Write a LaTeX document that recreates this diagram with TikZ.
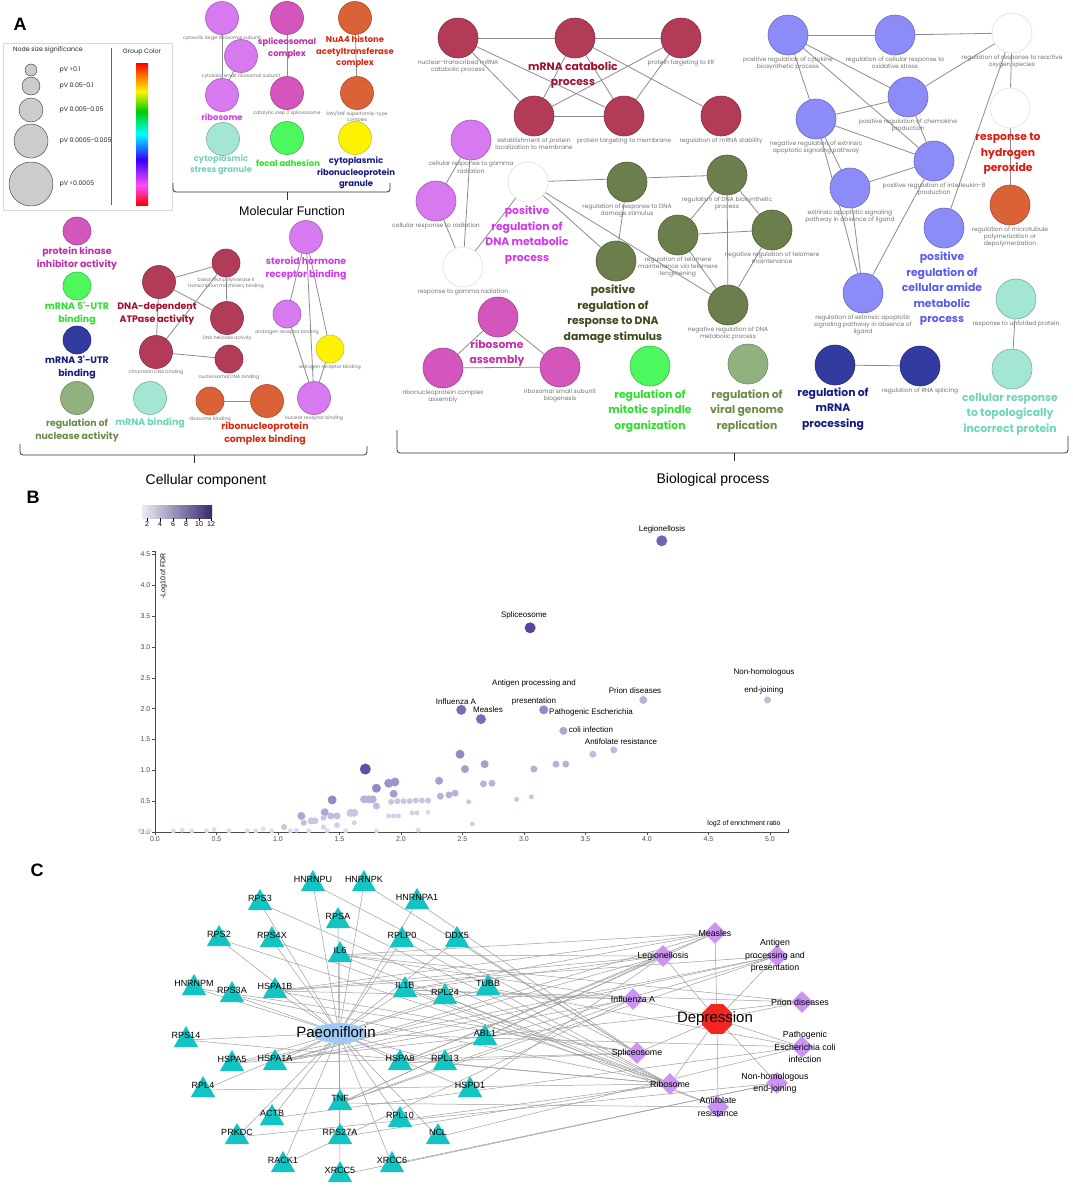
\documentclass[tikz,border=0pt]{standalone}
\usepackage{fontspec}
\setmainfont{Liberation Sans}
\newfontfamily\grpfont{Poppins}
\usetikzlibrary{shapes.geometric,backgrounds,positioning}

\definecolor{rasp}{HTML}{B23C58}
\definecolor{raspT}{HTML}{A3102F}
\definecolor{orchid}{HTML}{D77AF0}
\definecolor{orchidT}{HTML}{D239EC}
\definecolor{mauve}{HTML}{D455BC}
\definecolor{mauveT}{HTML}{C12FA6}
\definecolor{rust}{HTML}{DA6236}
\definecolor{rustT}{HTML}{D8280E}
\definecolor{mint}{HTML}{A3E6D4}
\definecolor{mintT}{HTML}{6ED6B6}
\definecolor{limeN}{HTML}{4DF75E}
\definecolor{limeT}{HTML}{2EE02E}
\definecolor{navyN}{HTML}{333AA0}
\definecolor{navyT}{HTML}{141A80}
\definecolor{moss}{HTML}{6C7E4B}
\definecolor{mossT}{HTML}{3B4A1C}
\definecolor{sage}{HTML}{91B27E}
\definecolor{sageT}{HTML}{6B8B48}
\definecolor{peri}{HTML}{8C8CF8}
\definecolor{periT}{HTML}{5B5BF0}
\definecolor{fire}{HTML}{DD1A0E}
\definecolor{vio}{HTML}{52399E}
\definecolor{genec}{HTML}{13C5C2}
\definecolor{pathc}{HTML}{C994F2}
\definecolor{paec}{HTML}{9DCBF6}
\definecolor{deprc}{HTML}{F2261E}

\pgfdeclareverticalshading{grpbar}{100bp}{color(0bp)=(red); color(25bp)=(red); color(32bp)=(magenta!70!white); color(41bp)=(blue!80!magenta); color(50bp)=(cyan); color(58bp)=(green!80!black); color(65bp)=(yellow!90!orange); color(70bp)=(orange); color(75bp)=(red); color(100bp)=(red)}

\tikzset{
  term/.style={circle, draw=#1!75!black, fill=#1, minimum size=40pt, inner sep=0pt, line width=0.6pt, label distance=1pt},
  sterm/.style={term=#1, minimum size=28pt},
  mterm/.style={term=#1, minimum size=33pt},
  blank/.style={term=white, draw=black!12},
  glab/.style={font=\grpfont\fontsize{6}{7.2}\selectfont, text=black!55, align=center, inner sep=1pt},
  sglab/.style={glab, font=\grpfont\fontsize{4.7}{5.8}\selectfont},
  grp/.style={font=\grpfont\bfseries\fontsize{10.8}{15.5}\selectfont, text=#1, align=center, inner sep=0pt},
  sgrp/.style={font=\grpfont\bfseries\fontsize{9.4}{13}\selectfont, text=#1, align=center, inner sep=0pt},
  tgrp/.style={font=\grpfont\bfseries\fontsize{8.4}{11.5}\selectfont, text=#1, align=center, inner sep=0pt},
  link/.style={draw=black!45, line width=0.8pt},
  brk/.style={draw=black!80, line width=0.8pt, rounded corners=3pt},
  pan/.style={font=\bfseries\fontsize{18}{18}\selectfont},
  leg/.style={font=\grpfont\fontsize{6.3}{7.5}\selectfont, text=black!85},
  tk/.style={font=\fontsize{7}{8}\selectfont, inner sep=1.5pt},
  slab/.style={font=\fontsize{8}{9}\selectfont, inner sep=0pt},
  gene/.style={regular polygon, regular polygon sides=3, fill=genec, minimum size=28pt, inner sep=0pt},
  gtxt/.style={font=\fontsize{9}{10}\selectfont, yshift=5pt, inner sep=0pt},
  pway/.style={diamond, fill=pathc, minimum size=22pt, inner sep=0pt},
  ptxt/.style={font=\fontsize{8.8}{12.5}\selectfont, align=center, inner sep=0pt},
  net/.style={draw=black!38, line width=0.5pt},
}

\begin{document}
\begin{tikzpicture}[x=1pt,y=-1pt]
  \useasboundingbox (0,0) rectangle (1072,1187);
  \begin{scope}[on background layer]
    \fill[white] (0,0) rectangle (1072,1187);
  \end{scope}

  %% ---------------- A: legend
  \node[pan] (lA) at (20,24) {A};
  \draw[black!15] (3,43) rectangle (172,210);
  \node[leg] (lgs) at (48,50) {Node size significance};
  \node[leg] (lgc) at (142,52) {Group Color};
  \draw[black!60] (111,48) -- (111,205);
  \shade[shading=grpbar] (136,63) rectangle (148,205);
  \foreach \y/\r/\t [count=\i] in {70/6/{pV >0.1}, 86/9/{pV 0.05-0.1}, 110/12/{pV 0.005-0.05}, 141/17/{pV 0.0005-0.005}, 184/22/{pV <0.0005}}{
    \node[circle, draw=black!80, fill=black!20, minimum size=2*\r pt, inner sep=0pt] (sz\i) at (31,\y) {};
    \node[leg, anchor=west] (szt\i) at (56,\y) {\t};
  }

  %% top cluster
  \node[mterm=orchid, label={[sglab]below:cytosolic large ribosomal subunit}] (cls) at (222,18) {};
  \node[mterm=orchid, label={[sglab]below:cytosolic small ribosomal subunit}] (css) at (241,56) {};
  \node[mterm=orchid] (ribos) at (222,95) {};
  \node[mterm=mauve] (spl) at (287,18) {};
  \node[mterm=mauve, label={[sglab]below:catalytic step 2 spliceosome}] (cat2) at (287,93) {};
  \node[mterm=rust] (nua4) at (355,18) {};
  \node[mterm=rust, label={[sglab]below:SWI/SNF superfamily-type\\complex}] (swi) at (357,93) {};
  \node[mterm=mint] (csg) at (223,139) {};
  \node[mterm=limeN] (foc) at (287,138) {};
  \node[mterm=yellow] (crg) at (355,138) {};
  \node[tgrp=orchidT] (tribos) at (222,117) {ribosome};
  \node[tgrp=mauveT] (tspl) at (287,48) {spliceosomal\\complex};
  \node[tgrp=rustT] (tnua) at (355,52) {NuA4 histone\\acetyltransferase\\complex};
  \node[tgrp=mintT] (tcsg) at (221,165) {cytoplasmic\\stress granule};
  \node[tgrp=limeT] (tfoc) at (288,163) {focal adhesion};
  \node[tgrp=navyT] (tcrg) at (356,173) {cytoplasmic\\ribonucleoprotein\\granule};
  \draw[brk] (173,183) |- (287,192);
  \draw[brk] (390,183) |- (287,192);
  \draw[brk] (287,192) -- (287,200);
  \node[font=\fontsize{12.5}{14}\selectfont] (mf) at (292,211) {Molecular Function};

  %% left cluster
  \node[sterm=mauve] (pki) at (77,231) {};
  \node[sterm=limeN] (u5) at (77,286) {};
  \node[sterm=navyN] (u3) at (77,340) {};
  \node[mterm=sage] (nuc) at (77,398) {};
  \node[mterm=mint] (mrb) at (150,398) {};
  \node[sgrp=mauveT] (tpki) at (77,258) {protein kinase\\inhibitor activity};
  \node[sgrp=limeT] (tu5) at (77,314) {mRNA 5'-UTR\\binding};
  \node[sgrp=navyT] (tu3) at (77,368) {mRNA 3'-UTR\\binding};
  \node[sgrp=sageT] (tnuc) at (77,430) {regulation of\\nuclease activity};
  \node[sgrp=mintT] (tmrb) at (150,423) {mRNA binding};

  \node[mterm=rasp] (atp) at (159,282) {};
  \node[sterm=rasp, label={[sglab]below:basal RNA polymerase II\\transcription machinery binding}] (bas) at (226,263) {};
  \node[mterm=rasp, label={[sglab]below:DNA helicase activity}] (hel) at (227,318) {};
  \node[mterm=rasp, label={[sglab]below:chromatin DNA binding}] (chr) at (156,352) {};
  \node[sterm=rasp, label={[sglab]below:nucleosomal DNA binding}] (nsm) at (229,359) {};
  \node[sgrp=raspT] (tatp) at (157,314) {DNA-dependent\\ATPase activity};

  \node[sterm=rust, label={[sglab]below:ribosome binding}] (rbb) at (210,401) {};
  \node[mterm=rust] (rnp) at (267,401) {};
  \node[sgrp=rustT] (trnp) at (265,434) {ribonucleoprotein\\complex binding};

  \node[mterm=orchid] (shr) at (306,237) {};
  \node[sterm=orchid, label={[sglab]below:androgen receptor binding}] (andr) at (287,314) {};
  \node[sterm=yellow, label={[sglab]below:estrogen receptor binding}] (estr) at (330,349) {};
  \node[mterm=orchid, label={[sglab]below:nuclear receptor binding}] (nrb) at (314,398) {};
  \node[sgrp=orchidT] (tshr) at (306,269) {steroid hormone\\receptor binding};

  \draw[brk] (20,444) |- (194,455);
  \draw[brk] (367,446) |- (194,455);
  \draw[brk] (194,455) -- (194,463);
  \node[font=\fontsize{14}{16}\selectfont] (cc) at (206,481) {Cellular component};

  %% ---------------- biological process
  \node[term=rasp, label={[glab]below:nuclear-transcribed mRNA\\catabolic process}] (mc1) at (458,38) {};
  \node[term=rasp] (mc2) at (575,38) {};
  \node[term=rasp, label={[glab]below:protein targeting to ER}] (mc3) at (681,38) {};
  \node[term=rasp, label={[glab]below:establishment of protein\\localization to membrane}] (mc4) at (534,116) {};
  \node[term=rasp, label={[glab]below:protein targeting to membrane}] (mc5) at (624,116) {};
  \node[term=rasp, label={[glab]below:regulation of mRNA stability}] (mc6) at (721,116) {};
  \node[grp=raspT] (tmc) at (573,75) {mRNA catabolic\\process};

  \node[term=orchid, label={[glab]below:cellular response to gamma\\radiation}] (gm1) at (471,140) {};
  \node[term=orchid, label={[glab]below:cellular response to radiation}] (gm2) at (436,201) {};
  \node[blank] (dm1) at (528,182) {};
  \node[blank, label={[glab]below:response to gamma radiation}] (gm3) at (463,267) {};
  \node[grp=orchidT] (tdm) at (527,235) {positive\\regulation of\\DNA metabolic\\process};

  \node[term=moss, label={[glab]below:regulation of response to DNA\\damage stimulus}] (dd1) at (627,182) {};
  \node[term=moss, label={[glab]below:regulation of DNA biosynthetic\\process}] (dd2) at (727,175) {};
  \node[term=moss, label={[glab]below:regulation of telomere\\maintenance via telomere\\lengthening}] (dd3) at (678,235) {};
  \node[term=moss, label={[glab]below:negative regulation of telomere\\maintenance}] (dd4) at (772,230) {};
  \node[term=moss] (dd5) at (616,261) {};
  \node[term=moss, label={[glab]below:negative regulation of DNA\\metabolic process}] (dd6) at (728,305) {};
  \node[grp=mossT] (tdd) at (613,314) {positive\\regulation of\\response to DNA\\damage stimulus};

  \node[term=mauve] (ra1) at (498,317) {};
  \node[term=mauve, label={[glab]below:ribonucleoprotein complex\\assembly}] (ra2) at (443,368) {};
  \node[term=mauve, label={[glab]below:ribosomal small subunit\\biogenesis}] (ra3) at (560,367) {};
  \node[grp=mauveT] (tra) at (497,353) {ribosome\\assembly};

  \node[term=limeN] (ms) at (650,366) {};
  \node[grp=limeT] (tms) at (650,411) {regulation of\\mitotic spindle\\organization};
  \node[term=sage] (vg) at (748,364) {};
  \node[grp=sageT] (tvg) at (747,411) {regulation of\\viral genome\\replication};

  \node[term=peri, label={[glab]below:positive regulation of cytokine\\biosynthetic process}] (ap1) at (788,35) {};
  \node[term=peri, label={[glab]below:regulation of cellular response to\\oxidative stress}] (ap2) at (895,35) {};
  \node[blank, label={[glab]below:regulation of response to reactive\\oxygen species}] (ro1) at (1012,33) {};
  \node[blank] (ro2) at (1010,108) {};
  \node[term=rust, label={[glab]below:regulation of microtubule\\polymerization or\\depolymerization}] (hp) at (1010,205) {};
  \node[grp=fire] (thp) at (1008,154) {response to\\hydrogen\\peroxide};
  \node[term=peri, label={[glab]below:positive regulation of chemokine\\production}] (ap3) at (908,97) {};
  \node[term=peri, label={[glab]below:negative regulation of extrinsic\\apoptotic signaling pathway}] (ap4) at (816,119) {};
  \node[term=peri, label={[glab]below:positive regulation of interleukin-8\\production}] (ap5) at (934,161) {};
  \node[term=peri, label={[glab]below:extrinsic apoptotic signaling\\pathway in absence of ligand}] (ap6) at (850,188) {};
  \node[term=peri] (ap7) at (944,228) {};
  \node[grp=periT] (tap) at (942,289) {positive\\regulation of\\cellular amide\\metabolic\\process};
  \node[term=peri, label={[glab]below:regulation of extrinsic apoptotic\\signaling pathway in absence of\\ligand}] (ap8) at (863,293) {};
  \node[term=mint, label={[glab]below:response to unfolded protein}] (tp1) at (1016,299) {};
  \node[term=mint] (tp2) at (1012,369) {};
  \node[grp=mintT] (ttp) at (1010,414) {cellular response\\to topologically\\incorrect protein};
  \node[term=navyN] (mp1) at (835,365) {};
  \node[term=navyN, label={[glab]below:regulation of RNA splicing}] (mp2) at (920,366) {};
  \node[grp=navyT] (tmp) at (833,409) {regulation of\\mRNA\\processing};

  \draw[brk] (397,430) |- (734,453);
  \draw[brk] (1068,436) |- (734,453);
  \draw[brk] (734,453) -- (734,461);
  \node[font=\fontsize{14}{16}\selectfont] (bp) at (713,480) {Biological process};

  \begin{scope}[on background layer]
    \foreach \a/\b in {cls/ribos, css/ribos, spl/cat2, nua4/swi,
      atp/bas, atp/hel, atp/chr, bas/hel, bas/chr, chr/nsm, rbb/rnp,
      shr/andr, shr/nrb, shr/estr, andr/nrb, estr/nrb,
      mc1/mc2, mc2/mc3, mc1/mc4, mc1/mc5, mc2/mc4, mc2/mc5, mc2/mc6, mc3/mc4, mc3/mc5, mc4/mc5,
      gm1/gm2, gm1/gm3, gm2/gm3, dm1/gm3, dm1/dd2, dm1/dd5, dm1/dd6, dd1/dd5,
      dd2/dd3, dd2/dd4, dd2/dd6, dd3/dd4, dd3/dd6, dd4/dd6,
      ra1/ra2, ra1/ra3, ra2/ra3,
      ap1/ap2, ap2/ro1, ap1/ap4, ap1/ap3, ap1/ap5, ap4/ap3, ap4/ap5, ap4/ap6, ap4/ap8,
      ap3/ro1, ap3/ap5, ap5/ap6, ap5/ap8, ap6/ap8, ro1/ro2, ro1/ap7, ro2/hp, tp1/tp2, mp1/mp2}
      \draw[link] (\a) -- (\b);
  \end{scope}

  %% ---------------- B: enrichment scatter
  \node[pan] (lB) at (33,497) {B};
  \shade[left color=vio!10!white, right color=vio!70!black] (142,505) rectangle (212,518);
  \foreach \x/\t in {147/2, 160/4, 173/6, 186/8, 199/10, 211/12}
    \draw (\x,518) -- (\x,521) node[below, tk, inner sep=0.5pt] {\t};
  \begin{scope}[shift={(155,832)}, x=123pt, y=61.7pt]
    \draw[black!70, line width=0.8pt] (0,0) -- (5.15,0) -- ++(0,3pt);
    \draw[black!70, line width=0.8pt] (0,0) -- (0,4.55) -- ++(-3pt,0);
    \foreach \v in {0.0,0.5,1.0,1.5,2.0,2.5,3.0,3.5,4.0,4.5,5.0}
      \draw[black!70] (\v,0) -- ++(0,-3pt) node[below, tk] {\v};
    \foreach \v in {0.0,0.5,1.0,1.5,2.0,2.5,3.0,3.5,4.0,4.5}
      \draw[black!70] (0,\v) -- ++(-3pt,0) node[left, tk] {\v};
    \node[tk, rotate=90, anchor=east] (yl) at (0.07,4.55) {-Log10 of FDR};
    \node[tk, anchor=south east] (xl) at (5.1,0.05) {log2 of enrichment ratio};
    \foreach \x/\y/\r/\s in {4.12/4.72/5.5/80, 3.05/3.31/5.5/95, 2.49/1.98/5/75, 2.65/1.83/5/75,
      3.16/1.98/4.5/60, 3.32/1.64/4/45, 3.97/2.14/4/40, 4.98/2.14/3.5/35, 3.73/1.33/3.5/35,
      3.56/1.26/3.5/35, 3.26/1.10/3.5/40, 3.34/1.10/3.5/40, 3.08/1.02/3.5/40, 2.94/0.53/2.5/30,
      3.06/0.57/2.5/30, 2.68/1.10/4/50, 2.67/0.78/3.5/40, 2.74/0.79/3.5/40, 2.48/1.26/4.5/60,
      2.52/1.02/4/50, 2.31/0.83/4/50, 2.32/0.58/3.5/40, 2.39/0.60/3.5/40, 2.44/0.63/3.5/40,
      2.55/0.49/2.5/30, 2.58/0.13/2.5/25, 1.71/1.02/5.5/90, 1.80/0.71/4.5/60, 1.90/0.79/4.5/55,
      1.95/0.81/4.5/55, 1.94/0.62/4/50, 1.70/0.53/4/40, 1.74/0.53/4/40, 1.77/0.53/4/40,
      1.80/0.42/3.5/35, 1.44/0.52/4.5/60, 1.38/0.32/4/45, 1.43/0.26/3.5/35, 1.48/0.26/3.5/35,
      1.37/0.23/3/30, 1.59/0.31/4/30, 1.62/0.31/4/30, 1.19/0.26/4/45, 1.21/0.15/3/35,
      1.27/0.18/3.5/30, 1.30/0.18/3.5/30, 1.05/0.08/3/30, 1.37/0.08/2.5/25, 1.48/0.11/3/25,
      1.62/0.15/2.5/25, 1.92/0.49/3/30, 1.97/0.50/3/30, 2.02/0.50/3/30, 2.07/0.50/3/30,
      2.12/0.51/3/30, 2.17/0.51/3/30, 2.22/0.51/3/30, 1.90/0.26/2.5/25, 1.94/0.26/2.5/25,
      1.98/0.26/2.5/25, 2.09/0.31/2.5/25, 2.13/0.31/2.5/25, 2.22/0.32/2.5/20, 2.14/0.03/2.5/20,
      -0.12/0.02/2.5/18, -0.05/0.02/2.5/18, 0.15/0.02/2.5/18, 0.22/0.03/2.5/18, 0.3/0.02/2.5/18,
      0.42/0.02/2.5/18, 0.48/0.04/2.5/18, 0.6/0.02/2.5/18, 0.75/0.02/2.5/18, 0.82/0.02/2.5/18,
      0.88/0.05/2.5/18, 0.95/0.02/2.5/18, 1.1/0.02/2.5/18, 1.15/0.03/2.5/18, 1.25/0.02/2.5/18,
      1.4/0.02/2.5/18, 1.55/0.02/2.5/18, 1.8/0.02/2.5/18}
      \fill[vio!\s!white] (\x,\y) circle[radius=\r pt];
  \end{scope}
  \node[slab] (sl1) at (662,529) {Legionellosis};
  \node[slab] (sl2) at (524,615) {Spliceosome};
  \node[slab] (sl3) at (534,683) {Antigen processing and};
  \node[slab] (sl4) at (534,701) {presentation};
  \node[slab] (sl5) at (591,712) {Pathogenic Escherichia};
  \node[slab] (sl6) at (591,730) {coli infection};
  \node[slab] (sl7) at (621,742) {Antifolate resistance};
  \node[slab] (sl8) at (635,691) {Prion diseases};
  \node[slab] (sl9) at (764,672) {Non-homologous};
  \node[slab] (sl10) at (764,690) {end-joining};
  \node[slab] (sl11) at (456,702) {Influenza A};
  \node[slab] (sl12) at (488,710) {Measles};

  %% ---------------- C: network
  \node[pan] (lC) at (37,870) {C};
  \foreach \n/\x/\y in {HNRNPU/313/884, HNRNPK/364/884, HNRNPA1/417/902, RPS3/260/903, RPSA/338/921,
    RPS2/219/939, RPS4X/272/940, RPLP0/402/940, DDX5/457/940, IL6/340/955, HNRNPM/194/988,
    RPS3A/232/995, HSPA1B/275/991, IL1B/405/990, RPL24/445/997, TUBB/488/988, RPS14/186/1040,
    ABL1/485/1038, HSPA5/232/1064, HSPA1A/275/1063, HSPA8/400/1063, RPL13/445/1063, RPL4/203/1090,
    HSPD1/470/1090, TNF/340/1103, ACTB/272/1118, RPL10/400/1120, PRKDC/237/1137, RPS27A/340/1137,
    NCL/438/1137, RACK1/283/1165, XRCC6/392/1165, XRCC5/340/1175}
    \node[gene, label={[gtxt]center:\n}] (\n) at (\x,\y) {};
  \node[ellipse, fill=paec, minimum width=55pt, minimum height=20pt, inner sep=0pt,
    label={[font=\fontsize{15}{17}\selectfont, xshift=-3pt, yshift=1pt]center:Paeoniflorin}] (pae) at (339,1033) {};

  \node[pway, label={[ptxt]center:Measles}] (measles) at (715,933) {};
  \node[pway, label={[ptxt]center:Legionellosis}] (legion) at (663,956) {};
  \node[pway, label={[ptxt, xshift=-2pt]center:Antigen\\processing and\\presentation}] (antigen) at (777,956) {};
  \node[pway, label={[ptxt]center:Influenza A}] (influenza) at (633,999) {};
  \node[pway, label={[ptxt, xshift=-2pt]center:Prion diseases}] (prion) at (802,1002) {};
  \node[pway, label={[ptxt, xshift=3pt]center:Pathogenic\\Escherichia coli\\infection}] (ecoli) at (802,1047) {};
  \node[pway, label={[ptxt]center:Spliceosome}] (splice) at (637,1053) {};
  \node[pway, label={[ptxt]center:Ribosome}] (ribo) at (670,1084) {};
  \node[pway, label={[ptxt, xshift=-2pt]center:Non-homologous\\end-joining}] (nhej) at (777,1083) {};
  \node[pway, label={[ptxt]center:Antifolate\\resistance}] (antifol) at (718,1107) {};
  \node[regular polygon, regular polygon sides=8, fill=deprc, minimum size=32pt, inner sep=0pt,
    label={[font=\fontsize{15}{17}\selectfont, xshift=-2pt]center:Depression}] (depr) at (717,1019) {};

  \begin{scope}[on background layer]
    \foreach \g in {HNRNPU, HNRNPK, HNRNPA1, RPS3, RPSA, RPS2, RPS4X, RPLP0, DDX5, IL6, HNRNPM,
      RPS3A, HSPA1B, IL1B, RPL24, TUBB, RPS14, ABL1, HSPA5, HSPA1A, HSPA8, RPL13, RPL4, HSPD1,
      TNF, ACTB, RPL10, PRKDC, RPS27A, NCL, RACK1, XRCC6, XRCC5}
      \draw[net] (pae) -- (\g);
    \foreach \p in {measles, legion, antigen, influenza, prion, ecoli, splice, ribo, nhej, antifol}
      \draw[net] (depr) -- (\p);
    \foreach \g/\p in {RPS3/ribo, RPS2/ribo, RPS4X/ribo, RPSA/ribo, RPS3A/ribo, RPS14/ribo, RPL4/ribo,
      RPLP0/ribo, RPL24/ribo, RPL13/ribo, RPL10/ribo, RPS27A/ribo,
      HNRNPU/splice, HNRNPK/splice, HNRNPA1/splice, HNRNPM/splice, HSPA1A/splice, HSPA1B/splice,
      HSPA8/splice, DDX5/splice,
      HSPA1A/legion, HSPA1B/legion, HSPA8/legion, HSPD1/legion, IL6/legion, IL1B/legion, TNF/legion,
      HSPA1A/measles, HSPA1B/measles, HSPA8/measles, IL6/measles, IL1B/measles, TNF/measles,
      IL6/influenza, IL1B/influenza, TNF/influenza, HSPA1A/influenza, HSPA1B/influenza, RACK1/influenza,
      HSPA1A/antigen, HSPA1B/antigen, HSPA5/antigen, HSPA8/antigen, TNF/antigen,
      IL6/prion, IL1B/prion, HSPA5/prion,
      TUBB/ecoli, ABL1/ecoli, ACTB/ecoli, NCL/ecoli,
      PRKDC/nhej, XRCC5/nhej, XRCC6/nhej,
      IL6/antifol, IL1B/antifol, TNF/antifol}
      \draw[net] (\g) -- (\p);
  \end{scope}
\end{tikzpicture}
\end{document}
